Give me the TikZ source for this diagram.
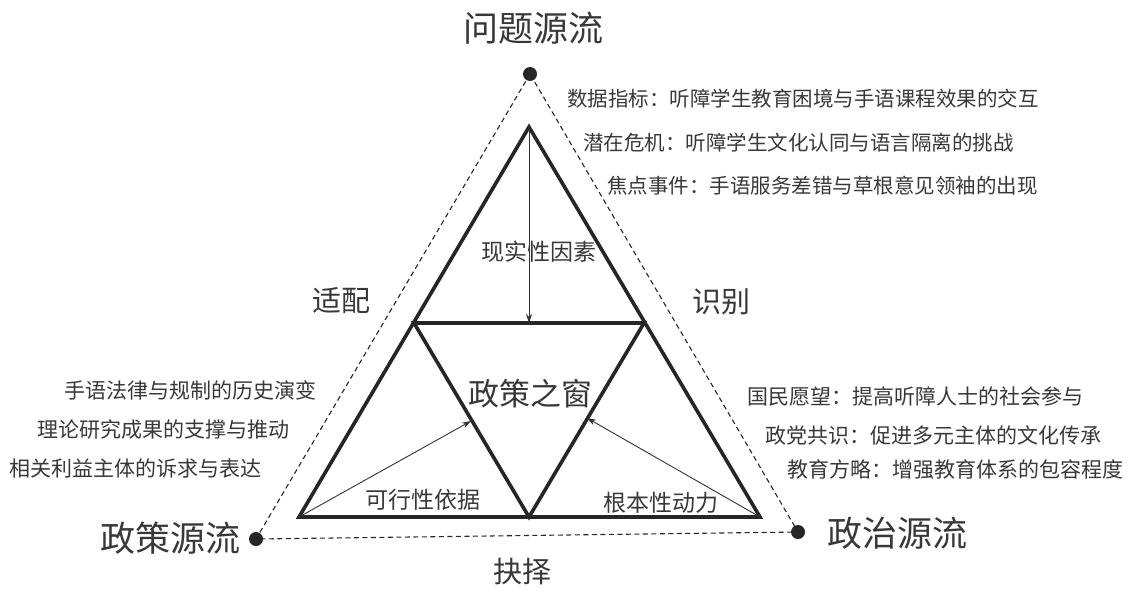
\documentclass[tikz,border=0pt]{standalone}
\usepackage{fontspec}
\setmainfont{Noto Sans CJK SC}
\usetikzlibrary{arrows.meta}
\definecolor{ink}{gray}{0.22}
\tikzset{
  frame/.style={line width=3.6pt, draw=black!85, line join=miter},
  dash line/.style={line width=1.1pt, draw=black!85, dash pattern=on 5pt off 3.5pt},
  dot/.style={fill=black!85},
  arr/.style={line width=0.9pt, draw=black!80, -{Stealth[length=9pt,width=6pt]}},
  big/.style={text=ink, inner sep=0pt, font=\fontsize{35}{35}\selectfont},
  mid/.style={text=ink, inner sep=0pt, font=\fontsize{29}{29}\selectfont},
  inside/.style={text=ink, inner sep=0pt, font=\fontsize{23}{23}\selectfont},
  item/.style={text=ink, inner sep=0pt, font=\fontsize{20.5}{21}\selectfont},
  itemb/.style={text=ink, inner sep=0pt, font=\fontsize{21}{21}\selectfont},
}
\begin{document}
\begin{tikzpicture}[x=1pt,y=-1pt]
\useasboundingbox (0,0) rectangle (1131,594);
% outer dashed triangle
\coordinate (P) at (530,74);
\coordinate (L) at (256,539);
\coordinate (R) at (798,532);
\draw[dash line] (P) -- (L) -- (R) -- cycle;
\fill[dot] (P) circle (7);
\fill[dot] (L) circle (7);
\fill[dot] (R) circle (7);
% inner thick triangles
\coordinate (A) at (529,127);
\coordinate (B) at (299,517);
\coordinate (C) at (760,517);
\coordinate (M1) at (414,323);
\coordinate (M2) at (644,323);
\coordinate (M3) at (529,517);
\draw[frame] (A) -- (B) -- (C) -- cycle;
\draw[frame] (M1) -- (M2) -- (M3) -- cycle;
% arrows
\coordinate (FT) at (529,323);
\coordinate (FL) at (471,421);
\coordinate (FR) at (587,418);
\draw[arr] (A) -- (FT);
\draw[arr] (B) -- (FL);
\draw[arr] (C) -- (FR);
% labels
\node[big] (problem) at (533,28) {问题源流};
\node[big] (policy) at (170,538) {政策源流};
\node[big] (politics) at (897,533) {政治源流};
\node[mid] (adapt) at (341,301) {适配};
\node[mid] (identify) at (721,302) {识别};
\node[mid] (choose) at (522,572) {抉择};
\node[font=\fontsize{31}{31}\selectfont, text=ink, inner sep=0pt] (window) at (530,394) {政策之窗};
\node[inside] (real) at (539,252) {现实性因素};
\node[inside] (feasible) at (423,500) {可行性依据};
\node[inside] (fund) at (661,503) {根本性动力};
% top right list
\node[item, anchor=west] (t1) at (567,99) {数据指标：听障学生教育困境与手语课程效果的交互};
\node[item, anchor=west] (t2) at (583,143) {潜在危机：听障学生文化认同与语言隔离的挑战};
\node[item, anchor=west] (t3) at (607,186) {焦点事件：手语服务差错与草根意见领袖的出现};
% left list
\node[itemb, anchor=east] (l1) at (317,390) {手语法律与规制的历史演变};
\node[itemb, anchor=east] (l2) at (290,430) {理论研究成果的支撑与推动};
\node[itemb, anchor=east] (l3) at (262,468) {相关利益主体的诉求与表达};
% bottom right list
\node[itemb, anchor=west] (r1) at (747,397) {国民愿望：提高听障人士的社会参与};
\node[itemb, anchor=west] (r2) at (765,435) {政党共识：促进多元主体的文化传承};
\node[itemb, anchor=west] (r3) at (787,470) {教育方略：增强教育体系的包容程度};
\end{tikzpicture}
\end{document}
